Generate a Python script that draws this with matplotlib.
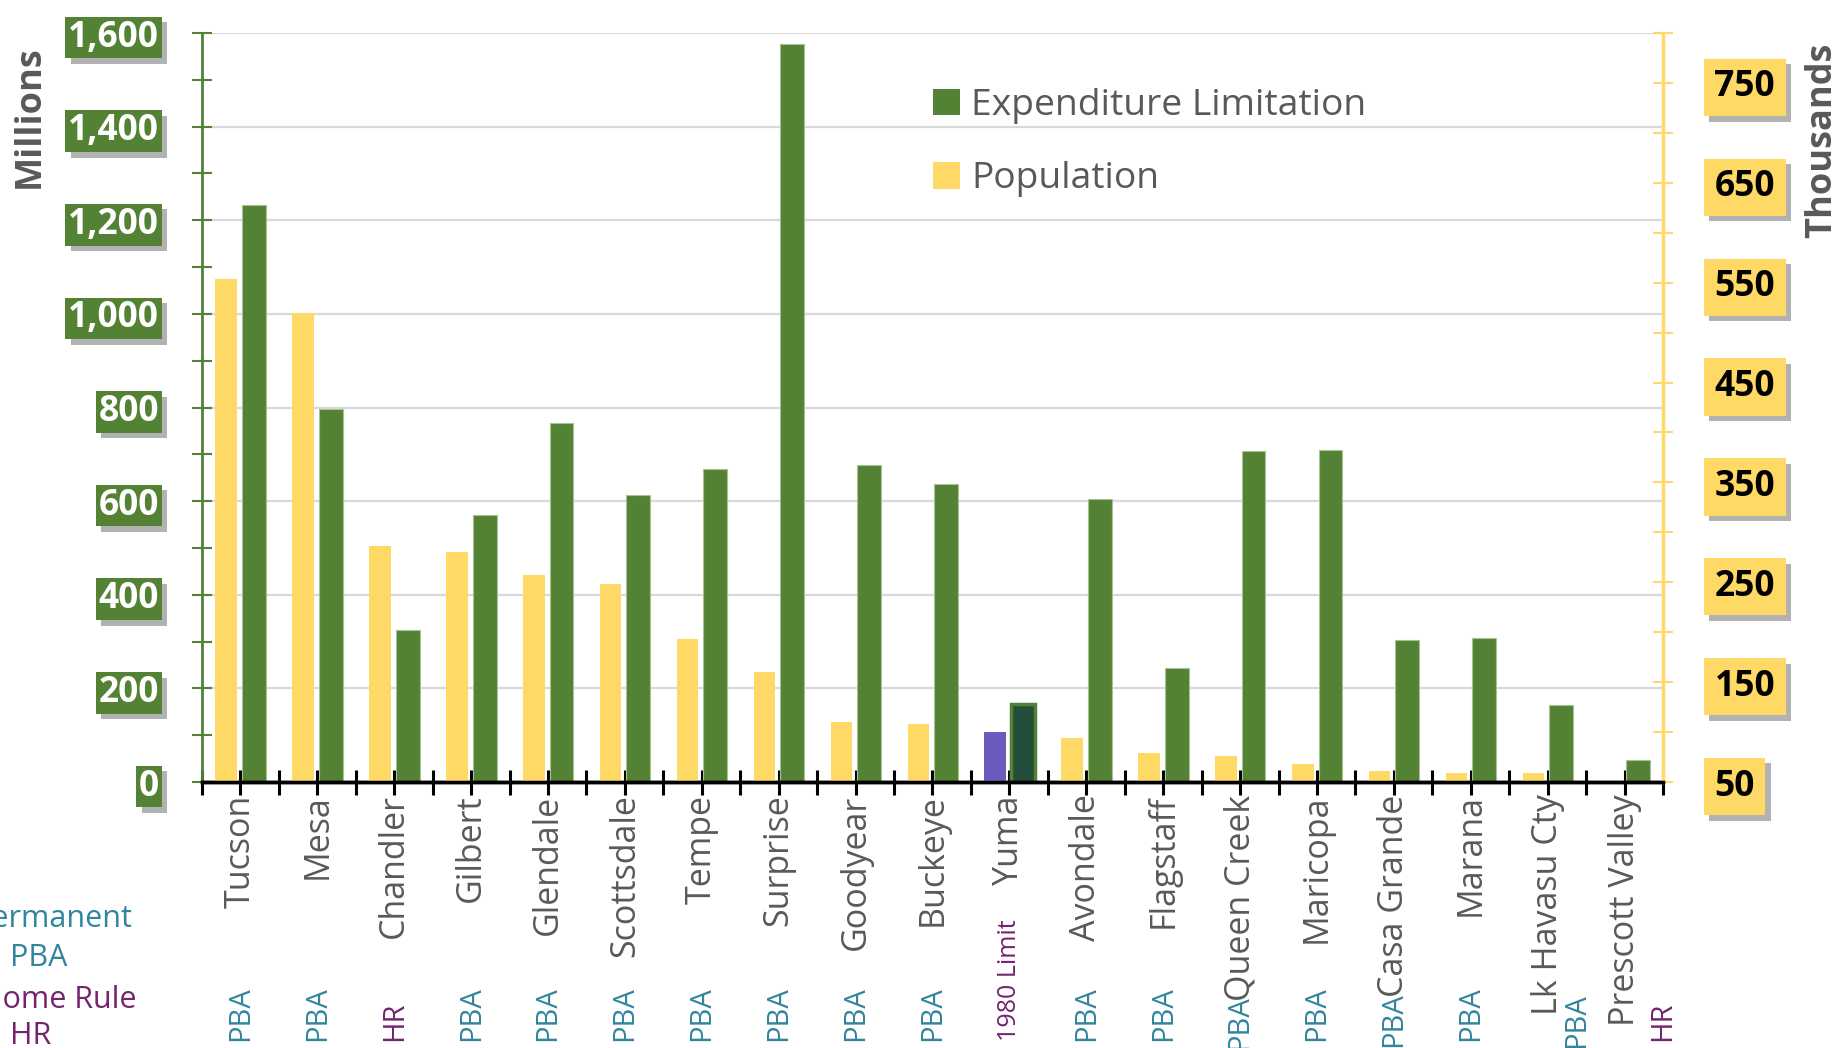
import matplotlib
matplotlib.use("Agg")
import matplotlib.pyplot as plt
import matplotlib.patheffects as pe
from matplotlib.patches import Patch
from matplotlib.transforms import blended_transform_factory

plt.rcParams["font.family"] = ["Open Sans", "DejaVu Sans"]

CITIES = ["Tucson", "Mesa", "Chandler", "Gilbert", "Glendale", "Scottsdale",
          "Tempe", "Surprise", "Goodyear", "Buckeye", "Yuma", "Avondale",
          "Flagstaff", "Queen Creek", "Maricopa", "Casa Grande", "Marana",
          "Lk Havasu Cty", "Prescott Valley"]

# expenditure limitation, millions
EXPEND = [1233, 797, 324, 571, 767, 614, 669, 1577, 677, 636, 166, 604,
          244, 707, 709, 304, 307, 164, 48]

# population, thousands
POP = [554, 520, 286, 280, 257, 248, 193, 160, 110, 108, 100, 94,
       79, 76, 68, 61, 59, 59, 46]

NOTES = ["PBA", "PBA", "HR", "PBA", "PBA", "PBA", "PBA", "PBA", "PBA", "PBA",
         "1980 Limit", "PBA", "PBA", "PBA", "PBA", "PBA", "PBA", "PBA", "HR"]

LEFT_TICKS = list(range(0, 1601, 200))
RIGHT_TICKS = list(range(50, 751, 100))

GREEN = "#548235"
YELLOW = "#FFD966"
GREY_TXT = "#595959"
TEAL = "#31859C"
PURPLE = "#74246F"

fig = plt.figure(figsize=(18.38, 10.48), dpi=100)
ax = fig.add_axes([202 / 1838, 1 - 782 / 1048, (1663 - 202) / 1838, (782 - 33) / 1048])
ax2 = ax.twinx()

x = list(range(len(CITIES)))
green_cols = [("#234F3A" if c == "Yuma" else GREEN) for c in CITIES]
green_edges = [(GREEN if c == "Yuma" else "#A8C291") for c in CITIES]
green_lw = [(2.5 if c == "Yuma" else 0.8) for c in CITIES]
yellow_cols = [("#6A5BBF" if c == "Yuma" else YELLOW) for c in CITIES]

ax.set_axisbelow(True)
ax.bar([i + 0.175 for i in x], EXPEND, width=0.31, color=green_cols,
       edgecolor=green_edges, linewidth=green_lw, zorder=2)
ax2.bar([i - 0.185 for i in x], POP, width=0.28, color=yellow_cols, zorder=2)

ax.set_xlim(-0.5, len(CITIES) - 0.5)
ax.set_ylim(0, 1600)
ax2.set_ylim(50, 800)

# left axis
ax.set_yticks(LEFT_TICKS)
ax.set_yticklabels([f"{v:,}" for v in LEFT_TICKS])
ax.set_yticks(range(100, 1600, 200), minor=True)
ax.tick_params(axis="y", which="both", direction="inout", length=14, width=1.5,
               color=GREEN, labelsize=25.5, labelcolor="white", pad=24)
for lab in ax.get_yticklabels():
    lab.set_fontweight("bold")
    lab.set_bbox(dict(boxstyle="square,pad=0.08", facecolor=GREEN, edgecolor="none"))
    lab.get_bbox_patch().set_path_effects(
        [pe.withSimplePatchShadow(offset=(4, -4), shadow_rgbFace="#555555", alpha=0.45)])
ax.grid(axis="y", which="major", color="#D9D9D9", linewidth=1.6)

# right axis
ax2.set_yticks(RIGHT_TICKS)
ax2.set_yticks(range(100, 801, 100), minor=True)
ax2.tick_params(axis="y", which="both", direction="inout", length=14, width=1.5,
                color=YELLOW, labelsize=25.5, labelcolor="black", pad=30)
for lab in ax2.get_yticklabels():
    lab.set_fontweight("bold")
    lab.set_bbox(dict(boxstyle="square,pad=0.3", facecolor=YELLOW, edgecolor="none"))
    lab.get_bbox_patch().set_path_effects(
        [pe.withSimplePatchShadow(offset=(4, -4), shadow_rgbFace="#555555", alpha=0.45)])

# x axis: ticks at category centres and boundaries
ax.set_xticks(x)
ax.set_xticklabels(CITIES, rotation=90, fontsize=24.5, color=GREY_TXT)
ax.set_xticks([i - 0.5 for i in range(len(CITIES) + 1)], minor=True)
ax.tick_params(axis="x", which="both", direction="inout", length=18, width=2.2,
               color="black", pad=0)

for a in (ax, ax2):
    a.spines["top"].set_visible(False)
ax.spines["right"].set_visible(False)
ax2.spines["left"].set_visible(False)
ax.spines["left"].set_color(GREEN)
ax.spines["left"].set_linewidth(2)
ax2.spines["right"].set_color(YELLOW)
ax2.spines["right"].set_linewidth(2.5)
ax.spines["bottom"].set_color("black")
ax.spines["bottom"].set_linewidth(2.5)
ax2.spines["bottom"].set_color("black")
ax2.spines["bottom"].set_linewidth(2.5)

fig.text(30 / 1838, 1 - 117 / 1048, "Millions", rotation=90, fontsize=26,
         fontweight="bold", color=GREY_TXT, ha="center", va="center")
fig.text(1822 / 1838, 1 - 140 / 1048, "Thousands", rotation=90, fontsize=26,
         fontweight="bold", color=GREY_TXT, ha="center", va="center")

# legend
handles = [Patch(facecolor=GREEN, edgecolor="none", label="Expenditure Limitation"),
           Patch(facecolor=YELLOW, edgecolor="none", label="Population")]
ax2.legend(handles=handles, loc="upper left", bbox_to_anchor=(933 / 1838, 1 - 88 / 1048),
           bbox_transform=fig.transFigure, frameon=False, fontsize=26.8,
           labelcolor=GREY_TXT, handlelength=0.73, handleheight=0.73,
           handletextpad=0.3, labelspacing=1.0, borderpad=0, borderaxespad=0)

# charter notes under each city
note_dx = {"Lk Havasu Cty": 0.38, "Prescott Valley": 0.5}
note_y = {"Queen Creek": 1050, "Casa Grande": 1047, "Lk Havasu Cty": 1048}
tr = blended_transform_factory(ax.transData, fig.transFigure)
for i, (city, note) in enumerate(zip(CITIES, NOTES)):
    col = TEAL if note == "PBA" else PURPLE
    yb = note_y.get(city, 1041)
    ax.text(i + note_dx.get(city, 0), 1 - yb / 1048, note, transform=tr,
            rotation=90, fontsize=(18 if note == "1980 Limit" else 21),
            color=col, ha="center", va="bottom", clip_on=False)

# key at lower left (cut by the left edge as in the source)
fig.text(132 / 1838, 1 - 919 / 1048, "Permanent", fontsize=22, color=TEAL,
         ha="right", va="center")
fig.text(10 / 1838, 1 - 958 / 1048, "PBA", fontsize=22, color=TEAL,
         ha="left", va="center")
fig.text(136 / 1838, 1 - 1000 / 1048, "Home Rule", fontsize=22, color=PURPLE,
         ha="right", va="center")
fig.text(10 / 1838, 1 - 1036 / 1048, "HR", fontsize=22, color=PURPLE,
         ha="left", va="center")

fig.savefig("out.png", dpi=100)
